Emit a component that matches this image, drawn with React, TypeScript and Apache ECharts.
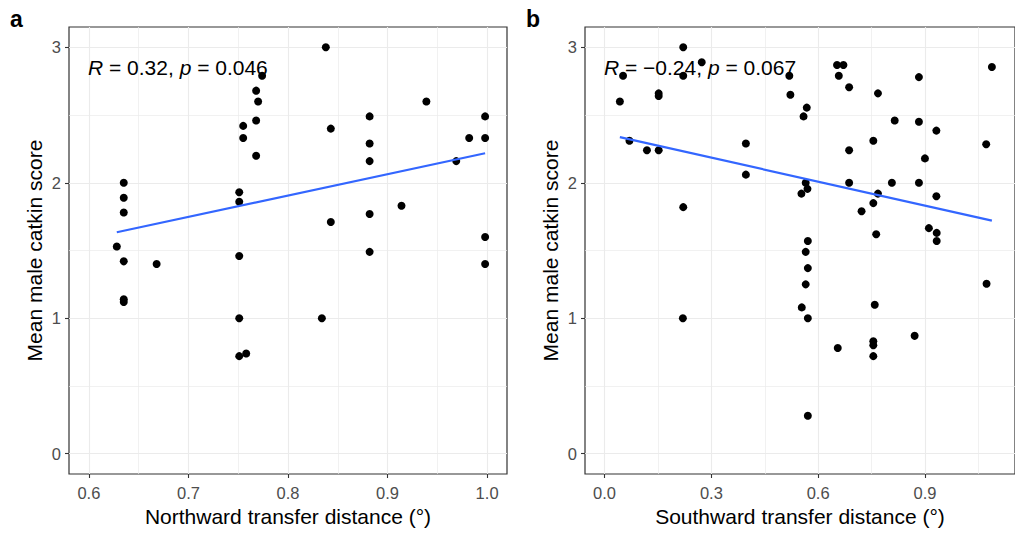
import { useEffect, useRef } from 'react';
import * as echarts from 'echarts';

// Mean male catkin score against transfer distance (degrees of latitude)
const northPoints: [number, number][] = [
  [0.628, 1.53], [0.635, 2.0], [0.635, 1.89], [0.635, 1.78], [0.635, 1.42],
  [0.635, 1.14], [0.635, 1.12], [0.668, 1.4], [0.751, 1.93], [0.751, 1.86],
  [0.751, 1.46], [0.751, 1.0], [0.751, 0.72], [0.755, 2.42], [0.755, 2.33],
  [0.758, 0.74], [0.768, 2.68], [0.77, 2.6], [0.768, 2.46], [0.768, 2.2],
  [0.774, 2.79], [0.834, 1.0], [0.838, 3.0], [0.843, 2.4], [0.843, 1.71],
  [0.882, 2.49], [0.882, 2.29], [0.882, 2.16], [0.882, 1.77], [0.882, 1.49],
  [0.914, 1.83], [0.939, 2.6], [0.969, 2.16], [0.982, 2.33], [0.998, 2.49],
  [0.998, 2.33], [0.998, 1.6], [0.998, 1.4],
];

const southPoints: [number, number][] = [
  [0.043, 2.6], [0.052, 2.79], [0.07, 2.31], [0.119, 2.24], [0.152, 2.24],
  [0.152, 2.66], [0.152, 2.64], [0.221, 3.0], [0.221, 2.79], [0.221, 1.82],
  [0.22, 1.0], [0.273, 2.89], [0.397, 2.29], [0.397, 2.06], [0.519, 2.79],
  [0.522, 2.65], [0.559, 2.49], [0.568, 2.555], [0.553, 1.92], [0.565, 2.0],
  [0.57, 1.955], [0.571, 1.57], [0.565, 1.49], [0.571, 1.37], [0.565, 1.25],
  [0.554, 1.08], [0.571, 1.0], [0.571, 0.28], [0.653, 2.87], [0.671, 2.87],
  [0.658, 2.79], [0.687, 2.705], [0.687, 2.24], [0.687, 2.0], [0.655, 0.78],
  [0.722, 1.79], [0.755, 2.31], [0.755, 1.85], [0.768, 2.66], [0.768, 1.92],
  [0.763, 1.62], [0.759, 1.1], [0.755, 0.83], [0.755, 0.8], [0.755, 0.72],
  [0.807, 2.0], [0.815, 2.46], [0.871, 0.87], [0.883, 2.78], [0.883, 2.45],
  [0.883, 2.0], [0.9, 2.18], [0.911, 1.665], [0.932, 2.385], [0.932, 1.9],
  [0.933, 1.63], [0.933, 1.57], [1.072, 2.285], [1.073, 1.255], [1.088, 2.855],
];

// Least-squares fit lines, spanning each data range
const northFit: [number, number][] = [[0.628, 1.635], [0.998, 2.218]];
const southFit: [number, number][] = [[0.043, 2.337], [1.088, 1.721]];

const northTicks = [0.6, 0.7, 0.8, 0.9, 1.0];
const northMinor = [0.65, 0.75, 0.85, 0.95];
const southTicks = [0.0, 0.3, 0.6, 0.9];
const southMinor = [0.15, 0.45, 0.75, 1.05];
const scoreTicks = [0, 1, 2, 3];
const scoreMinor = [0.5, 1.5, 2.5];

const northStat = { r: '0.32', p: '0.046' };
const southStat = { r: '\u22120.24', p: '0.067' };

const FONT = '"Liberation Sans", Arial, Helvetica, sans-serif';
const BORDER = '#333333';
const GRID_LINE = '#EBEBEB';

type Panel = {
  letter: string;
  xTitle: string;
  points: [number, number][];
  fit: [number, number][];
  xTicks: number[];
  xMinor: number[];
  xMin: number;
  xMax: number;
  stat: { r: string; p: string };
  left: number;
  width: number;
};

const panels: Panel[] = [
  {
    letter: 'a',
    xTitle: 'Northward transfer distance (\u00B0)',
    points: northPoints,
    fit: northFit,
    xTicks: northTicks,
    xMinor: northMinor,
    xMin: 0.58,
    xMax: 1.02,
    stat: northStat,
    left: 69,
    width: 438,
  },
  {
    letter: 'b',
    xTitle: 'Southward transfer distance (\u00B0)',
    points: southPoints,
    fit: southFit,
    xTicks: southTicks,
    xMinor: southMinor,
    xMin: -0.0549,
    xMax: 1.1529,
    stat: southStat,
    left: 585,
    width: 436,
  },
];

const TOP = 27;
const HEIGHT = 447;

export default function App() {
  const ref = useRef<HTMLDivElement>(null);

  useEffect(() => {
    if (!ref.current) return;
    const chart = echarts.init(ref.current, null, { renderer: 'svg' });

    const grid = panels.map((p) => ({
      left: p.left,
      top: TOP,
      width: p.width,
      height: HEIGHT,
      show: true,
      backgroundColor: '#ffffff',
      borderColor: BORDER,
      borderWidth: 1.2,
      containLabel: false,
    }));

    const xAxis = panels.map((p, i) => ({
      type: 'value',
      gridIndex: i,
      min: p.xMin,
      max: p.xMax,
      name: p.xTitle,
      nameLocation: 'middle',
      nameGap: 31,
      nameTextStyle: { fontFamily: FONT, fontSize: 21, color: '#000000' },
      axisLine: { show: false, onZero: false },
      axisTick: {
        show: true,
        customValues: p.xTicks,
        length: 4,
        lineStyle: { color: BORDER, width: 1.1 },
      },
      axisLabel: {
        customValues: p.xTicks,
        margin: 10,
        fontFamily: FONT,
        fontSize: 16.5,
        color: '#4D4D4D',
        formatter: (v: number) => v.toFixed(1),
      },
      splitLine: { show: false },
      minorSplitLine: { show: false },
    }));

    const yAxis = panels.map((_, i) => ({
      type: 'value',
      gridIndex: i,
      min: -0.15,
      max: 3.15,
      name: 'Mean male catkin score',
      nameLocation: 'middle',
      nameGap: 24,
      nameTextStyle: { fontFamily: FONT, fontSize: 21, color: '#000000' },
      axisLine: { show: false, onZero: false },
      axisTick: {
        show: true,
        customValues: scoreTicks,
        length: 4,
        lineStyle: { color: BORDER, width: 1.1 },
      },
      axisLabel: {
        customValues: scoreTicks,
        margin: 8,
        fontFamily: FONT,
        fontSize: 16.5,
        color: '#4D4D4D',
        formatter: (v: number) => String(Math.round(v)),
      },
      splitLine: { show: false },
      minorSplitLine: { show: false },
    }));

    const series: any[] = [];
    panels.forEach((p, i) => {
      const major = { color: GRID_LINE, width: 1.1, type: 'solid' };
      const minor = { color: GRID_LINE, width: 0.7, type: 'solid' };
      // Panel grid lines drawn beneath the data
      series.push({
        type: 'line',
        xAxisIndex: i,
        yAxisIndex: i,
        data: [],
        silent: true,
        z: 1,
        markLine: {
          z: 1,
          silent: true,
          symbol: ['none', 'none'],
          label: { show: false },
          emphasis: { disabled: true },
          data: [
            ...p.xMinor.map((v) => ({ xAxis: v, lineStyle: minor })),
            ...scoreMinor.map((v) => ({ yAxis: v, lineStyle: minor })),
            ...p.xTicks.map((v) => ({ xAxis: v, lineStyle: major })),
            ...scoreTicks.map((v) => ({ yAxis: v, lineStyle: major })),
          ],
        },
      });
      series.push({
        type: 'scatter',
        xAxisIndex: i,
        yAxisIndex: i,
        data: p.points,
        symbol: 'circle',
        symbolSize: 8,
        itemStyle: { color: '#000000', opacity: 1 },
        z: 10,
      });
      series.push({
        type: 'line',
        xAxisIndex: i,
        yAxisIndex: i,
        data: p.fit,
        showSymbol: false,
        symbol: 'none',
        lineStyle: { color: '#3366FF', width: 2.2 },
        z: 11,
      });
    });

    const statFont = { fontFamily: FONT, fontSize: 21, fill: '#000000' };
    const graphic: any[] = [];
    panels.forEach((p) => {
      graphic.push({
        type: 'text',
        x: p.left - 59,
        y: 19,
        style: {
          text: p.letter,
          fontFamily: FONT,
          fontSize: 23,
          fontWeight: 'bold',
          fill: '#000000',
          verticalAlign: 'middle',
        },
      });
      graphic.push({
        type: 'text',
        x: p.left + 19,
        y: 67,
        z: 20,
        style: {
          text: `{i|R}{n| = ${p.stat.r}, }{i|p}{n| = ${p.stat.p}}`,
          verticalAlign: 'middle',
          ...statFont,
          rich: {
            i: { ...statFont, fontStyle: 'italic' },
            n: { ...statFont },
          },
        },
      });
    });

    chart.setOption({
      animation: false,
      backgroundColor: '#ffffff',
      textStyle: { fontFamily: FONT },
      grid,
      xAxis,
      yAxis,
      series,
      graphic,
    });

    return () => chart.dispose();
  }, []);

  return (
    <div
      ref={ref}
      style={{ position: 'fixed', left: 0, top: 0, width: 1015, height: 536 }}
    />
  );
}
